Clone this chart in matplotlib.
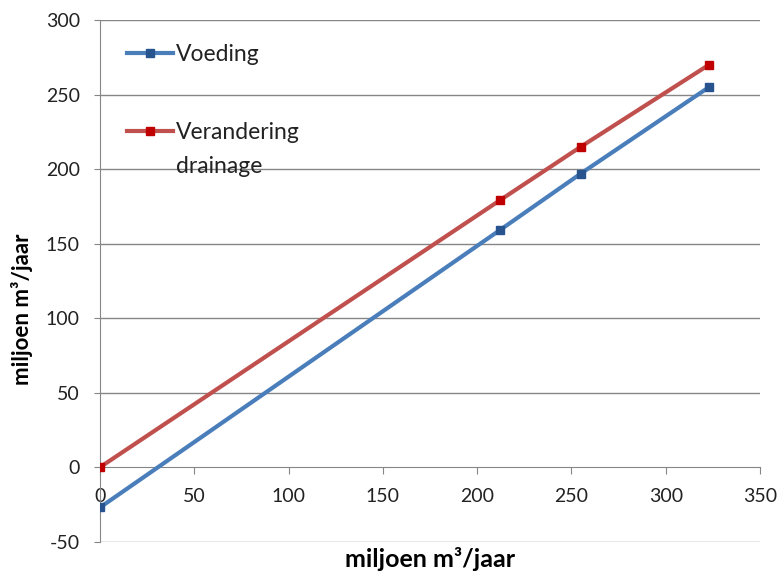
import matplotlib.pyplot as plt

# Data
x_vals = [0, 212, 255, 323]
voeding = [-27, 159, 197, 255]
drainage = [0, 179, 215, 270]
series_names = ['Voeding', 'Verandering', 'drainage']

x_ticks = [0, 50, 100, 150, 200, 250, 300, 350]
y_ticks = [-50, 0, 50, 100, 150, 200, 250, 300]

plt.rcParams['font.family'] = ['Lato', 'DejaVu Sans']
plt.rcParams['axes.unicode_minus'] = False

fig = plt.figure(figsize=(7.79, 5.76), dpi=100)
ax = fig.add_axes([0.1284, 0.0595, 0.8472, 0.9058])

grid_col = '#868686'

ax.plot(x_vals, voeding, color='#4a7ebb', lw=3, marker='s', ms=6,
        mfc='#27548f', mec='#27548f', label=series_names[0], zorder=3)
ax.plot(x_vals, drainage, color='#c0504d', lw=3, marker='s', ms=6,
        mfc='#c00000', mec='#c00000', label=series_names[1], zorder=3)

ax.set_xlim(0, 350)
ax.set_ylim(-50, 300)
ax.set_xticks(x_ticks)
ax.set_yticks(y_ticks)

# gridlines
for y in y_ticks:
    if y != 0:
        ax.axhline(y, color=grid_col, lw=1, zorder=1)

# spines
ax.spines['top'].set_visible(False)
ax.spines['right'].set_visible(False)
ax.spines['bottom'].set_position(('data', 0))
ax.spines['bottom'].set_color(grid_col)
ax.spines['left'].set_color(grid_col)
ax.spines['bottom'].set_zorder(2)

ax.tick_params(axis='y', direction='out', length=4, color=grid_col,
               labelsize=14, pad=10.5, labelcolor='#222222')
ax.tick_params(axis='x', direction='out', length=5, color=grid_col,
               labelsize=14, pad=10, labelcolor='#222222')
for lbl in ax.get_xticklabels() + ax.get_yticklabels():
    lbl.set_clip_on(False)

ax.set_xlabel('miljoen m³/jaar', fontsize=18, fontweight='bold')
ax.xaxis.set_label_coords(0.5, -0.01)
ax.set_ylabel('miljoen m³/jaar', fontsize=16, fontweight='bold')
ax.yaxis.set_label_coords(-0.1015, 0.446)

leg = ax.legend(loc='upper left', bbox_to_anchor=(0.02, 0.98), frameon=False,
                fontsize=16.5, handlelength=2.0, handletextpad=0.15,
                labelspacing=2.5, borderaxespad=0.2)

# second line of the red series label, under "Verandering"
fig.canvas.draw()
bb = leg.get_texts()[1].get_window_extent()
ax.annotate(series_names[2], xy=(bb.x0, bb.y0), xycoords='figure pixels',
            xytext=(0, -21), textcoords='offset points',
            fontsize=16.5, ha='left', va='baseline', color='#222222')
for t in leg.get_texts():
    t.set_color('#222222')

fig.savefig('out.png', dpi=100, facecolor='white')
